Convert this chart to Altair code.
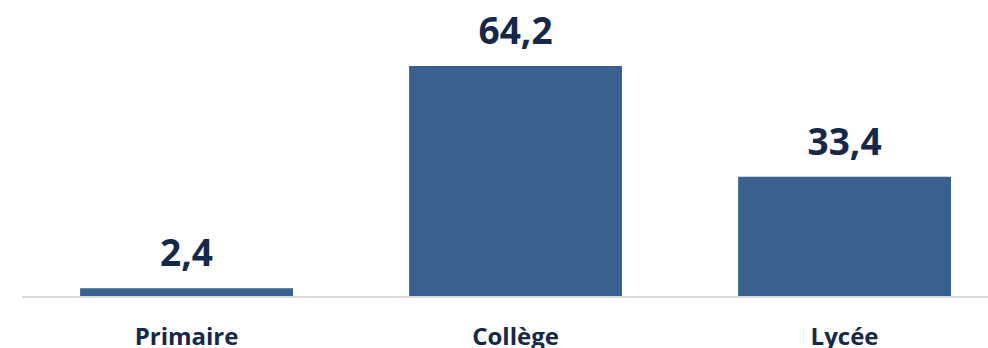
import altair as alt
import pandas as pd

categories = ["Primaire", "Collège", "Lycée"]
values = [2.4, 64.2, 33.4]
labels = ["2,4", "64,2", "33,4"]

df = pd.DataFrame({"cat": categories, "val": values, "lab": labels})

BAR = "#38618F"
TXT = "#14284A"
FONT = "Open Sans"

x = alt.X("cat:N", sort=categories, title=None,
          scale=alt.Scale(paddingInner=0.353, paddingOuter=0.178, align=0.684),
          axis=alt.Axis(domain=False, ticks=False, labelAngle=0, labelFontSize=24,
                        labelFontWeight="bold", labelColor=TXT, labelFont=FONT,
                        labelPadding=28, labelBaseline="top"))
y = alt.Y("val:Q", scale=alt.Scale(domain=[0, 82.5], nice=False, zero=True),
          axis=None)

base = alt.Chart(df)
bars = base.mark_bar(color=BAR).encode(x=x, y=y)
text = base.mark_text(font=FONT, fontSize=37, fontWeight="bold", color=TXT,
                      baseline="alphabetic", dy=-22).encode(x=x, y="val:Q", text="lab:N")
rule = base.mark_rule(color="#D9D9D9", strokeWidth=2).encode(
    x=alt.value(22), x2=alt.value(988), y=alt.datum(0))

chart = alt.layer(bars, text, rule).properties(
    width=988, height=297, background="white",
    padding={"left": 0, "top": 0, "right": 0, "bottom": 51},
    autosize=alt.AutoSizeParams(type="none")
).configure_view(stroke=None)

chart.save("out.html", embed_options={"renderer": "svg", "actions": False})
